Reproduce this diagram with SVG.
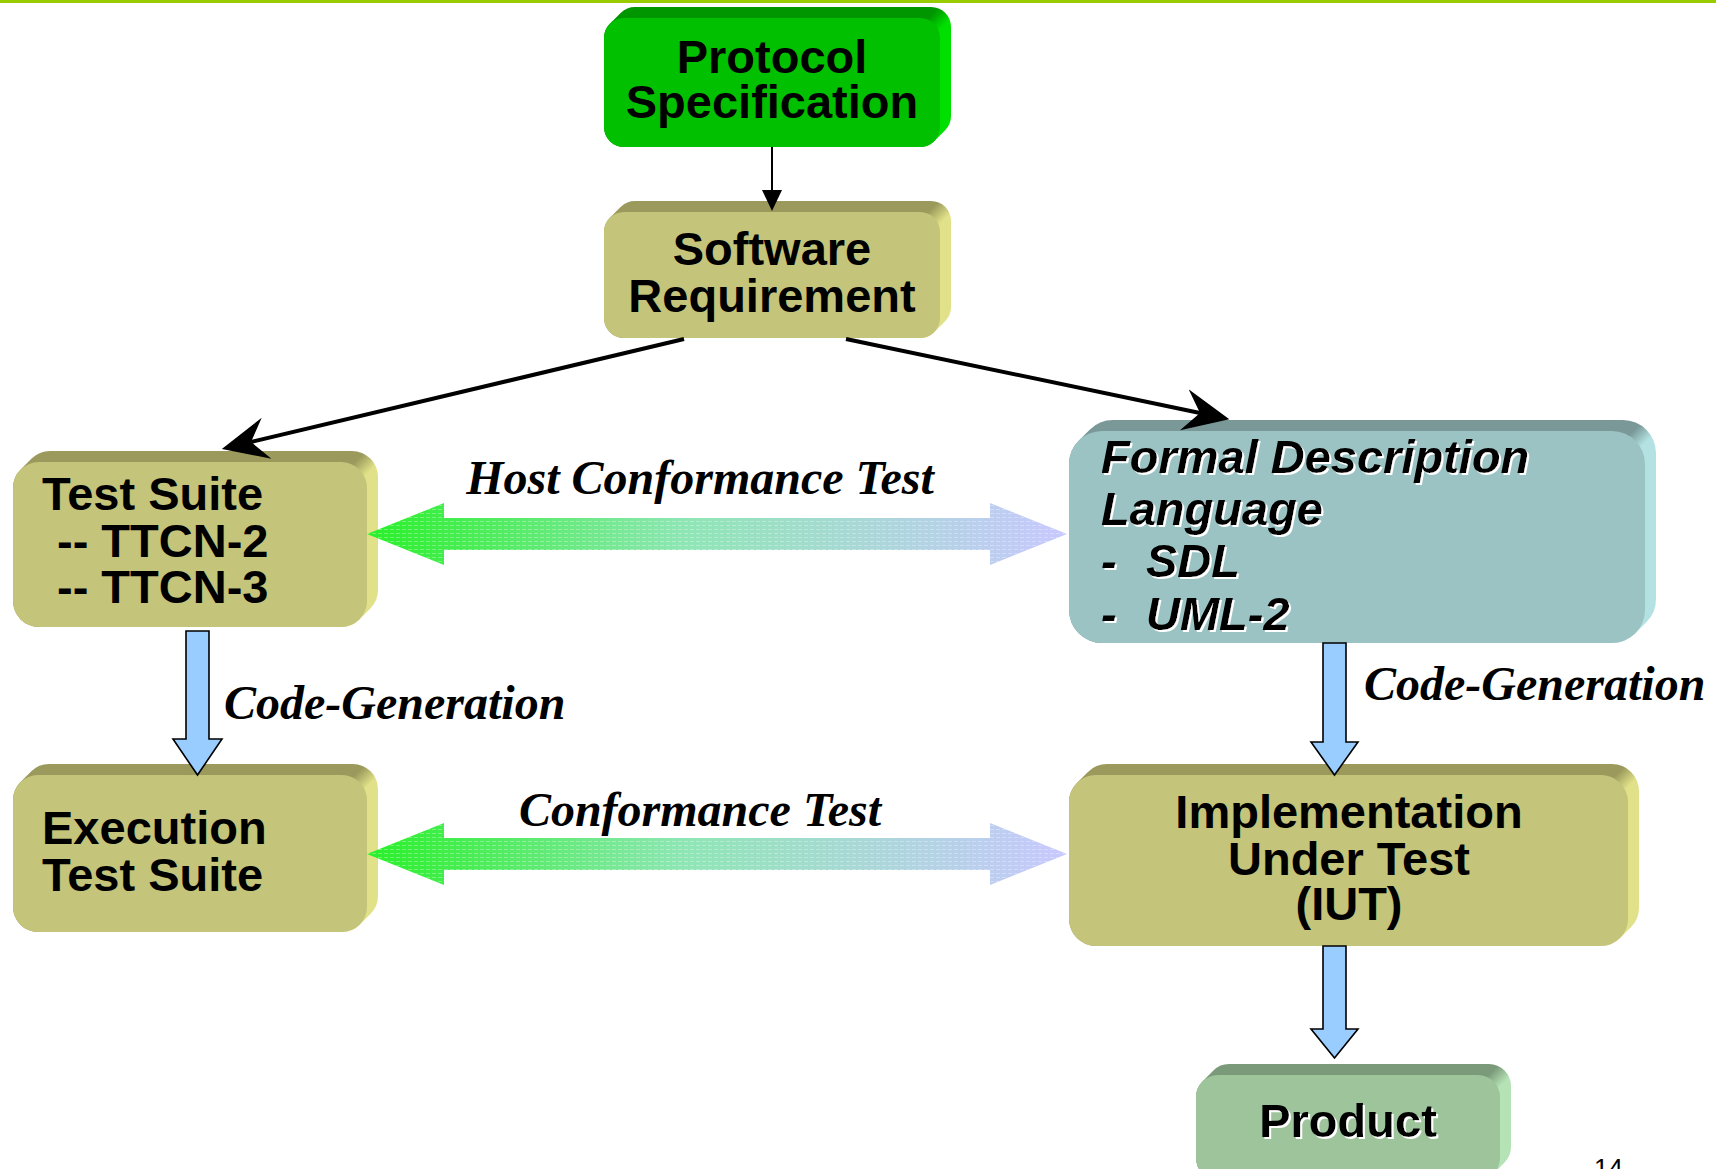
<svg xmlns="http://www.w3.org/2000/svg" width="1716" height="1169" viewBox="0 0 1716 1169">
  <defs>
    <style>
      .t{font-family:"Liberation Sans",Arial,sans-serif;font-weight:bold;font-size:47px;fill:#000}
      .c{text-anchor:middle}
      .it{font-style:italic}
      .e{font-family:"Liberation Serif","Times New Roman",serif;font-weight:bold;font-style:italic;font-size:48px;fill:#000}
      .line{stroke:#000;stroke-width:4;fill:none}
      .thin{stroke:#000;stroke-width:2;fill:none}
      .blk{fill:#99ccff;stroke:#000;stroke-width:1.6;stroke-linejoin:miter}
      .grn .front{fill:#00c000}
      .kha .front{fill:#c4c47a}
      .tea .front{fill:#9cc3c3}
      .prd .front{fill:#9ec49c}
    </style>
    <!-- extrusion shading: dark top face blending into a light side face -->
    <linearGradient id="xGrn"><stop offset="0" stop-color="#009600"/><stop offset="1" stop-color="#00e000"/></linearGradient>
    <linearGradient id="xKha"><stop offset="0" stop-color="#9b9a5c"/><stop offset="1" stop-color="#e1e189"/></linearGradient>
    <linearGradient id="xTea"><stop offset="0" stop-color="#7a9898"/><stop offset="1" stop-color="#b4e2e2"/></linearGradient>
    <linearGradient id="xPrd"><stop offset="0" stop-color="#7a9a7a"/><stop offset="1" stop-color="#b6e3b6"/></linearGradient>
    <linearGradient id="x1" href="#xGrn" gradientUnits="userSpaceOnUse" x1="934" y1="12" x2="946" y2="24"/>
    <linearGradient id="x2" href="#xKha" gradientUnits="userSpaceOnUse" x1="934" y1="206" x2="946" y2="218"/>
    <linearGradient id="x3" href="#xKha" gradientUnits="userSpaceOnUse" x1="361" y1="456" x2="373" y2="468"/>
    <linearGradient id="x4" href="#xTea" gradientUnits="userSpaceOnUse" x1="1639" y1="425" x2="1651" y2="437"/>
    <linearGradient id="x5" href="#xKha" gradientUnits="userSpaceOnUse" x1="361" y1="769" x2="373" y2="781"/>
    <linearGradient id="x6" href="#xKha" gradientUnits="userSpaceOnUse" x1="1622" y1="769" x2="1634" y2="781"/>
    <linearGradient id="x7" href="#xPrd" gradientUnits="userSpaceOnUse" x1="1494" y1="1069" x2="1506" y2="1081"/>
    <!-- double-headed test arrows -->
    <linearGradient id="testFill" gradientUnits="userSpaceOnUse" x1="367" y1="0" x2="1067" y2="0">
      <stop offset="0" stop-color="#28f028"/>
      <stop offset="0.45" stop-color="#8ee6b4"/>
      <stop offset="1" stop-color="#c8c8ff"/>
    </linearGradient>
    <pattern id="weave" width="6" height="4" patternUnits="userSpaceOnUse">
      <rect x="0" y="1" width="4" height="1" fill="#fff" opacity="0.3"/>
    </pattern>
    <marker id="stealth" markerUnits="userSpaceOnUse" markerWidth="48" markerHeight="44" viewBox="0 -22 48 44" refX="16" refY="0" orient="auto">
      <path d="M0,-21 L46,0 L0,21 L16,0 Z" fill="#000"/>
    </marker>
    <filter id="wsh" x="-5%" y="-10%" width="110%" height="130%">
      <feOffset in="SourceAlpha" dx="2" dy="2" result="o"/>
      <feFlood flood-color="#fff"/>
      <feComposite in2="o" operator="in" result="s"/>
      <feMerge><feMergeNode in="s"/><feMergeNode in="SourceGraphic"/></feMerge>
    </filter>
  </defs>

  <rect x="0" y="0" width="1716" height="1169" fill="#fff"/>
  <rect x="0" y="0" width="1716" height="3" fill="#99cc00"/>

  <g id="protocol-spec" class="grn">
    <path d="M604,127 L604,38 A20,20 0 0 1 609.86,23.86 L620.86,12.86 A20,20 0 0 1 635,7 L931,7 A20,20 0 0 1 951,27 L951,116 A20,20 0 0 1 945.14,130.14 L934.14,141.14 A20,20 0 0 1 920,147 L624,147 A20,20 0 0 1 604,127 Z" fill="url(#x1)"/>
    <rect class="front" x="604" y="18" width="336" height="129" rx="20"/>
    <text class="t c" x="772" y="73">Protocol</text>
    <text class="t c" x="772" y="118">Specification</text>
  </g>

  <g id="software-req" class="kha">
    <path d="M604,318 L604,232 A20,20 0 0 1 609.86,217.86 L620.86,206.86 A20,20 0 0 1 635,201 L931,201 A20,20 0 0 1 951,221 L951,307 A20,20 0 0 1 945.14,321.14 L934.14,332.14 A20,20 0 0 1 920,338 L624,338 A20,20 0 0 1 604,318 Z" fill="url(#x2)"/>
    <rect class="front" x="604" y="212" width="336" height="126" rx="20"/>
    <text class="t c" x="772" y="265">Software</text>
    <text class="t c" x="772" y="312">Requirement</text>
  </g>

  <g id="test-suite" class="kha">
    <path d="M13,601 L13,488 A26,26 0 0 1 20.62,469.62 L31.62,458.62 A26,26 0 0 1 50,451 L352,451 A26,26 0 0 1 378,477 L378,590 A26,26 0 0 1 370.38,608.38 L359.38,619.38 A26,26 0 0 1 341,627 L39,627 A26,26 0 0 1 13,601 Z" fill="url(#x3)"/>
    <rect class="front" x="13" y="462" width="354" height="165" rx="26"/>
    <text class="t" x="42" y="510">Test Suite</text>
    <text class="t" x="57" y="557">-- TTCN-2</text>
    <text class="t" x="57" y="603">-- TTCN-3</text>
  </g>

  <g id="formal-description" class="tea">
    <path d="M1069,610 L1069,464 A33,33 0 0 1 1078.67,440.67 L1089.67,429.67 A33,33 0 0 1 1113,420 L1623,420 A33,33 0 0 1 1656,453 L1656,599 A33,33 0 0 1 1646.33,622.33 L1635.33,633.33 A33,33 0 0 1 1612,643 L1102,643 A33,33 0 0 1 1069,610 Z" fill="url(#x4)"/>
    <rect class="front" x="1069" y="431" width="576" height="212" rx="33"/>
    <g filter="url(#wsh)">
      <text class="t it" x="1101" y="473">Formal Description</text>
      <text class="t it" x="1101" y="525">Language</text>
      <text class="t it" x="1101" y="577">-<tspan x="1146">SDL</tspan></text>
      <text class="t it" x="1101" y="630">-<tspan x="1146">UML-2</tspan></text>
    </g>
  </g>

  <g id="execution-suite" class="kha">
    <path d="M13,907 L13,800 A25,25 0 0 1 20.32,782.32 L31.32,771.32 A25,25 0 0 1 49,764 L353,764 A25,25 0 0 1 378,789 L378,896 A25,25 0 0 1 370.68,913.68 L359.68,924.68 A25,25 0 0 1 342,932 L38,932 A25,25 0 0 1 13,907 Z" fill="url(#x5)"/>
    <rect class="front" x="13" y="775" width="354" height="157" rx="25"/>
    <text class="t" x="42" y="844">Execution</text>
    <text class="t" x="42" y="891">Test Suite</text>
  </g>

  <g id="iut" class="kha">
    <path d="M1069,919 L1069,802 A27,27 0 0 1 1076.91,782.91 L1087.91,771.91 A27,27 0 0 1 1107,764 L1612,764 A27,27 0 0 1 1639,791 L1639,908 A27,27 0 0 1 1631.09,927.09 L1620.09,938.09 A27,27 0 0 1 1601,946 L1096,946 A27,27 0 0 1 1069,919 Z" fill="url(#x6)"/>
    <rect class="front" x="1069" y="775" width="559" height="171" rx="27"/>
    <text class="t c" x="1349" y="828">Implementation</text>
    <text class="t c" x="1349" y="875">Under Test</text>
    <text class="t c" x="1349" y="920">(IUT)</text>
  </g>

  <g id="product" class="prd">
    <path d="M1196,1158 L1196,1097 A22,22 0 0 1 1202.44,1081.44 L1213.44,1070.44 A22,22 0 0 1 1229,1064 L1489,1064 A22,22 0 0 1 1511,1086 L1511,1147 A22,22 0 0 1 1504.56,1162.56 L1493.56,1173.56 A22,22 0 0 1 1478,1180 L1218,1180 A22,22 0 0 1 1196,1158 Z" fill="url(#x7)"/>
    <rect class="front" x="1196" y="1075" width="304" height="105" rx="22"/>
    <text class="t c" x="1348" y="1137" filter="url(#wsh)">Product</text>
  </g>

  <g id="connectors">
    <!-- spec to requirement -->
    <line class="thin" x1="772" y1="147" x2="772" y2="192"/>
    <polygon points="762,190 782,190 772,211" fill="#000"/>
    <!-- requirement fans out -->
    <path class="line" d="M684,339 L251,442" marker-end="url(#stealth)"/>
    <path class="line" d="M846,339 L1200,413" marker-end="url(#stealth)"/>
    <!-- test relations -->
    <g>
      <polygon points="367,534 444,503 444,518 990,518 990,503 1067,534 990,565 990,550 444,550 444,565" fill="url(#testFill)"/>
      <polygon points="367,534 444,503 444,518 990,518 990,503 1067,534 990,565 990,550 444,550 444,565" fill="url(#weave)"/>
      <text class="e c" x="700" y="494">Host Conformance Test</text>
    </g>
    <g>
      <polygon points="367,854 444,823 444,838 990,838 990,823 1067,854 990,885 990,870 444,870 444,885" fill="url(#testFill)"/>
      <polygon points="367,854 444,823 444,838 990,838 990,823 1067,854 990,885 990,870 444,870 444,885" fill="url(#weave)"/>
      <text class="e c" x="700" y="826">Conformance Test</text>
    </g>
    <!-- code generation / build steps -->
    <polygon class="blk" points="186,631 209,631 209,739 222,739 197.5,775 173,739 186,739"/>
    <text class="e" x="224" y="719">Code-Generation</text>
    <polygon class="blk" points="1323,643 1346,643 1346,742 1358,742 1334.5,775 1311,742 1323,742"/>
    <text class="e" x="1364" y="700">Code-Generation</text>
    <polygon class="blk" points="1323,946 1346,946 1346,1029 1358,1029 1334.5,1058 1311,1029 1323,1029"/>
  </g>

  <text x="1594" y="1177" font-family="Liberation Sans, Arial, sans-serif" font-size="26" fill="#000">14</text>
</svg>
